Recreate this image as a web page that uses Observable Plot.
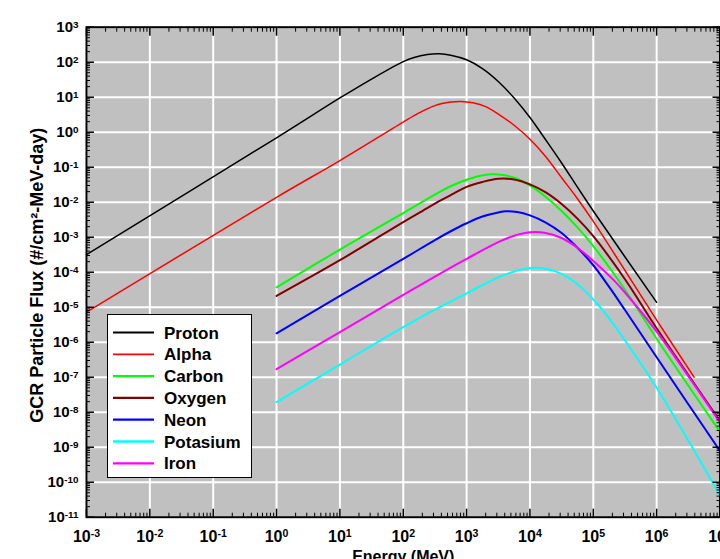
<!DOCTYPE html>
<html>
<head>
<meta charset="utf-8">
<script src="https://cdn.jsdelivr.net/npm/d3@7"></script>
<script src="https://cdn.jsdelivr.net/npm/@observablehq/plot@0.6"></script>
<style>
  html, body { margin: 0; padding: 0; background: #fff; }
  #wrap { position: relative; width: 720px; height: 559px; overflow: hidden; font-family: "Liberation Sans", Arial, sans-serif; }
  #wrap svg.plot { position: absolute; left: 0; top: 0; overflow: visible; }
  #legend { position: absolute; left: 107px; top: 314px; width: 143px; height: 162px; background: #fff; border: 1.6px solid #000; }
</style>
</head>
<body>
<div id="wrap"><div id="legend"></div></div>
<script>
// ---- Data (Energy in MeV, flux in #/cm2-MeV-day) ----
const seriesNames = ["Proton", "Alpha", "Carbon", "Oxygen", "Neon", "Potasium", "Iron"];
const seriesColors = ["#000000", "#ff0000", "#00ff00", "#800000", "#0000ff", "#00ffff", "#ff00ff"];
const seriesWidths = [1.5, 1.5, 2, 2, 2, 2, 2];

const protonE = [1e-3, 1, 10, 31.6, 100, 148, 240, 372, 562, 1000, 1778, 3162, 5623, 1e4, 17783, 31623, 56234, 1e5, 1e6];
const protonF = [3.2e-4, 0.69, 9.5, 33, 104, 137, 166, 174, 158, 117, 66, 28.2, 9.5, 2.63, 0.60, 0.132, 0.0269, 5.6e-3, 1.38e-5];

const alphaE = [1e-3, 1, 10, 100, 178, 316, 562, 813, 1259, 2000, 3162, 5623, 1e4, 17783, 31623, 56234, 1e5, 316228, 1e6, 3.9e6];
const alphaF = [7.2e-6, 0.0138, 0.155, 1.95, 3.55, 5.75, 7.24, 7.59, 6.92, 5.37, 3.31, 1.58, 0.63, 0.2, 0.05, 0.0126, 2.82e-3, 1.12e-4, 4.27e-6, 1.0e-7];

const carbonE = [1, 10, 100, 389, 631, 1000, 1585, 2512, 3981, 6310, 1e4, 17783, 31623, 56234, 1e5, 316228, 1e6, 1e7];
const carbonF = [3.7e-5, 4.4e-4, 4.9e-3, 0.0204, 0.0316, 0.0437, 0.0562, 0.0631, 0.0589, 0.0468, 0.0302, 0.0141, 5.6e-3, 1.9e-3, 5.6e-4, 3.16e-5, 1.26e-6, 2.75e-9];

const oxygenE = [1, 10, 100, 200, 389, 631, 1000, 1778, 3162, 5623, 1e4, 17783, 31623, 56234, 1e5, 316228, 1e6, 1e7];
const oxygenF = [2.1e-5, 2.2e-4, 2.7e-3, 5.6e-3, 0.0112, 0.0178, 0.0275, 0.038, 0.0468, 0.0447, 0.0324, 0.0191, 8.9e-3, 3.4e-3, 1.07e-3, 6.3e-5, 2.5e-6, 5.6e-9];

const neonE = [1, 10, 100, 316, 562, 1000, 1778, 3162, 4169, 6310, 1e4, 17783, 31623, 56234, 1e5, 177828, 316228, 1e6, 1e7];
const neonF = [1.8e-6, 2.1e-5, 2.4e-4, 8.3e-4, 1.48e-3, 2.5e-3, 3.9e-3, 5.1e-3, 5.5e-3, 5.25e-3, 4.2e-3, 2.63e-3, 1.32e-3, 5.0e-4, 1.58e-4, 3.8e-5, 8.3e-6, 3.7e-7, 7.8e-10];

const potasiumE = [1, 10, 100, 316, 1000, 3162, 5623, 1e4, 17783, 31623, 56234, 1e5, 177828, 316228, 1e6, 1e7];
const potasiumF = [1.95e-8, 2.3e-7, 2.7e-6, 8.5e-6, 2.5e-5, 7.1e-5, 1.05e-4, 1.32e-4, 1.26e-4, 8.9e-5, 4.5e-5, 1.66e-5, 4.8e-6, 1.12e-6, 5.0e-8, 4.2e-11];

const ironE = [1, 10, 100, 389, 1000, 3162, 5623, 1e4, 17783, 31623, 56234, 1e5, 213796, 316228, 1e6, 1e7];
const ironF = [1.7e-7, 1.95e-6, 2.24e-5, 9.3e-5, 2.4e-4, 7.2e-4, 1.1e-3, 1.38e-3, 1.32e-3, 9.5e-4, 5.0e-4, 2.1e-4, 5.75e-5, 2.63e-5, 2.0e-6, 5.1e-9];

const xExponents = [-3, -2, -1, 0, 1, 2, 3, 4, 5, 6, 7];
const yExponents = [-11, -10, -9, -8, -7, -6, -5, -4, -3, -2, -1, 0, 1, 2, 3];
const xLabel = "Energy (MeV)";
const yLabel = "GCR Particle Flux (#/cm²-MeV-day)";

// ---- Build tables ----
const seriesE = [protonE, alphaE, carbonE, oxygenE, neonE, potasiumE, ironE];
const seriesF = [protonF, alphaF, carbonF, oxygenF, neonF, potasiumF, ironF];
const tables = seriesNames.map((name, s) => seriesE[s].map((e, i) => ({name, E: e, F: seriesF[s][i]})));

const xMajor = xExponents.map(k => 10 ** k);
const yMajor = yExponents.map(k => 10 ** k);
const minorOf = (exps) => exps.slice(0, -1).flatMap(k => d3.range(2, 10).map(m => m * 10 ** k));
const xMinor = minorOf(xExponents);
const yMinor = minorOf(yExponents);
const fmt = d => "10^" + Math.round(Math.log10(d));
const blank = () => "";

const W = 720, H = 559;
const plot = Plot.plot({
  width: W, height: H,
  marginLeft: 86, marginRight: 0.5, marginTop: 26.7, marginBottom: 42.3,
  style: {fontFamily: "'Liberation Sans', Arial, sans-serif", fontWeight: "bold", fontSize: "15px", background: "transparent", overflow: "visible", color: "#000"},
  x: {type: "log", domain: [1e-3, 1e7], label: null},
  y: {type: "log", domain: [1e-11, 1e3], label: null},
  marks: [
    Plot.frame({fill: "#c0c0c0"}),
    Plot.gridX(xMajor, {stroke: "#fff", strokeOpacity: 1, strokeWidth: 2}),
    Plot.gridY(yMajor, {stroke: "#fff", strokeOpacity: 1, strokeWidth: 2}),
    ...tables.map((t, s) => Plot.line(t, {x: "E", y: "F", stroke: seriesColors[s], strokeWidth: seriesWidths[s], curve: "catmull-rom"})),
    // inward minor ticks
    Plot.axisX(xMinor, {anchor: "bottom", tickSize: -4, tickFormat: blank, label: null, strokeWidth: 1}),
    Plot.axisX(xMinor, {anchor: "top", tickSize: -4, tickFormat: blank, label: null, strokeWidth: 1}),
    Plot.axisY(yMinor, {anchor: "left", tickSize: -4, tickFormat: blank, label: null, strokeWidth: 1}),
    Plot.axisY(yMinor, {anchor: "right", tickSize: -4, tickFormat: blank, label: null, strokeWidth: 1}),
    // inward major ticks
    Plot.axisX(xMajor, {anchor: "bottom", tickSize: -8, tickFormat: blank, label: null, strokeWidth: 1.5}),
    Plot.axisX(xMajor, {anchor: "top", tickSize: -8, tickFormat: blank, label: null, strokeWidth: 1.5}),
    Plot.axisY(yMajor, {anchor: "left", tickSize: -8, tickFormat: blank, label: null, strokeWidth: 1.5}),
    Plot.axisY(yMajor, {anchor: "right", tickSize: -8, tickFormat: blank, label: null, strokeWidth: 1.5}),
    // tick labels
    Plot.axisX(xMajor, {anchor: "bottom", tickSize: 0, tickPadding: 13, tickFormat: fmt, label: null, fontSize: 16}),
    Plot.axisY(yMajor, {anchor: "left", tickSize: 0, tickPadding: 8, tickFormat: fmt, label: null, fontSize: 15}),
    // axis titles
    Plot.text([xLabel], {frameAnchor: "bottom", textAnchor: "middle", dy: 45, fontSize: 16, fontWeight: "bold", text: d => d}),
    Plot.text([yLabel], {frameAnchor: "left", textAnchor: "middle", dx: -49, dy: 3, rotate: -90, fontSize: 18, fontWeight: "bold", text: d => d}),
    Plot.frame({stroke: "#000", strokeWidth: 2})
  ]
});

// superscript exponents in tick labels
d3.select(plot).selectAll('g[aria-label="x-axis tick label"] text, g[aria-label="y-axis tick label"] text').each(function () {
  const t = d3.select(this);
  const s = t.text();
  if (!s.includes("^")) return;
  const [b, e] = s.split("^");
  t.text(b);
  t.append("tspan").attr("dy", "-0.45em").attr("font-size", "0.66em").text(e);
});

document.getElementById("wrap").prepend(plot);

// ---- Legend ----
const leg = d3.select("#legend").append("svg").attr("width", 143).attr("height", 162).style("display", "block");
const rowH = 21.8;
seriesNames.forEach((name, i) => {
  const y = 17.5 + i * rowH;
  leg.append("line").attr("x1", 5).attr("x2", 46).attr("y1", y).attr("y2", y)
    .attr("stroke", seriesColors[i]).attr("stroke-width", seriesWidths[i] + 0.3);
  leg.append("text").attr("x", 56).attr("y", y).attr("dy", "0.36em")
    .attr("font-family", "'Liberation Sans', Arial, sans-serif").attr("font-weight", "bold")
    .attr("font-size", 17).text(name);
});
</script>
</body>
</html>
